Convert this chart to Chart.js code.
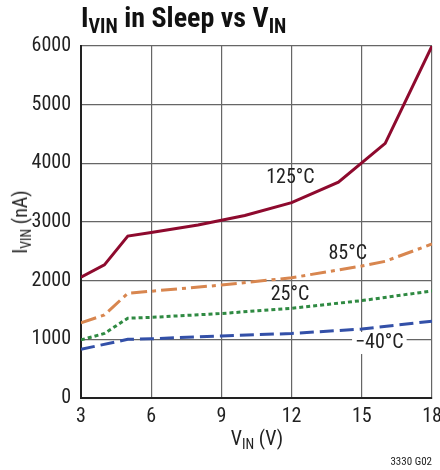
<!DOCTYPE html>
<html>
<head>
<meta charset="utf-8">
<script src="https://cdn.jsdelivr.net/npm/chart.js@4.4.0/dist/chart.umd.min.js"></script>
<style>
  html, body { margin: 0; padding: 0; background: #fff; }
  #wrap { position: relative; width: 440px; height: 470px; font-family: "Roboto Condensed", "Liberation Sans", Arial, sans-serif; color: #222; }
  #title { position: absolute; left: 81px; top: 1px; font-size: 28px; font-weight: bold; color: #111; white-space: nowrap; }
  #title sub { font-size: 20px; vertical-align: -6px; }
  #xtitle { position: absolute; left: 0; width: 514px; top: 426px; text-align: center; font-size: 20px; white-space: nowrap; }
  #ytitle { position: absolute; left: 21px; top: 222px; font-size: 20px; white-space: nowrap; transform: translate(-50%, -50%) rotate(-90deg); }
  sub { font-size: 14px; vertical-align: -4px; }
  #note { position: absolute; right: 8px; top: 455px; font-size: 11px; }
</style>
</head>
<body>
<div id="wrap">
  <canvas id="chart" width="440" height="470"></canvas>
  <div id="title">I<sub>VIN</sub> in Sleep vs V<sub>IN</sub></div>
  <div id="ytitle">I<sub>VIN</sub> (nA)</div>
  <div id="xtitle">V<sub>IN</sub> (V)</div>
  <div id="note">3330 G02</div>
</div>
<script>
// V_IN (V) sample points for each curve
const vin125 = [3, 4, 5, 6, 8, 10, 12, 14, 16, 18];
const cur125 = [2060, 2270, 2760, 2820, 2950, 3110, 3330, 3680, 4340, 6000];

const vin85 = [3, 4, 5, 6, 9, 12, 15, 16, 18];
const cur85 = [1280, 1415, 1785, 1820, 1925, 2050, 2250, 2330, 2625];

const vin25 = [3, 4, 5, 6, 9, 12, 15, 18];
const cur25 = [990, 1100, 1360, 1375, 1440, 1530, 1660, 1825];

const vinM40 = [3, 5, 6, 9, 12, 15, 18];
const curM40 = [830, 1000, 1010, 1057, 1100, 1175, 1310];

const xTicks = [3, 6, 9, 12, 15, 18];
const yTicks = [0, 1000, 2000, 3000, 4000, 5000, 6000];

// curve labels: [text, V_IN, I_VIN, white box]
const curveLabels = [
    ['125°C', 11.95, 3750, false],
    ['85°C', 14.4, 2455, false],
    ['25°C', 11.93, 1755, false],
    ['\u221240°C', 15.75, 937, true]
];

const FONT = '"Roboto Condensed", "Liberation Sans", Arial, sans-serif';

function pts(xs, ys) {
    return xs.map((x, i) => ({ x: x, y: ys[i] }));
}

const labelPlugin = {
    id: 'curveLabels',
    afterDatasetsDraw(chart) {
        const ctx = chart.ctx;
        const sx = chart.scales.x, sy = chart.scales.y;
        ctx.save();
        ctx.font = '20px ' + FONT;
        ctx.textAlign = 'center';
        ctx.textBaseline = 'middle';
        curveLabels.forEach(([txt, vx, vy, box]) => {
            const px = sx.getPixelForValue(vx);
            const py = sy.getPixelForValue(vy);
            if (box) {
                const w = ctx.measureText(txt).width + 6;
                ctx.fillStyle = '#fff';
                ctx.fillRect(px - w / 2, py - 11, w, 22);
            }
            ctx.fillStyle = '#222';
            ctx.fillText(txt, px, py);
        });
        ctx.restore();
    }
};

new Chart(document.getElementById('chart'), {
    type: 'line',
    data: {
        datasets: [
            { data: pts(vin125, cur125), borderColor: '#8e0a2e', borderWidth: 3 },
            { data: pts(vin85, cur85), borderColor: '#d8864f', borderWidth: 3, borderDash: [16, 5, 4, 5] },
            { data: pts(vin25, cur25), borderColor: '#2f8a42', borderWidth: 3, borderDash: [4, 3] },
            { data: pts(vinM40, curM40), borderColor: '#3350a8', borderWidth: 3, borderDash: [14, 6] }
        ]
    },
    options: {
        responsive: false,
        animation: false,
        layout: { padding: { top: 46, right: 8, left: 0, bottom: 0 } },
        elements: { point: { radius: 0 }, line: { tension: 0, borderCapStyle: 'butt' } },
        plugins: { legend: { display: false }, tooltip: { enabled: false } },
        scales: {
            x: {
                type: 'linear', min: 3, max: 18,
                afterBuildTicks: s => { s.ticks = xTicks.map(v => ({ value: v })); },
                afterFit: s => { s.height = 72; s.paddingLeft = 0; s.paddingRight = 0; },
                grid: { color: '#666', lineWidth: 1.2, drawTicks: false },
                border: { color: '#222', width: 2 },
                ticks: { color: '#222', padding: 7, font: { family: FONT, size: 20 }, maxRotation: 0, callback: v => String(v) }
            },
            y: {
                min: 0, max: 6000,
                afterBuildTicks: s => { s.ticks = yTicks.map(v => ({ value: v })); },
                afterFit: s => { s.width = 81; },
                grid: { color: '#666', lineWidth: 1.2, drawTicks: false },
                border: { color: '#222', width: 2 },
                ticks: { color: '#222', padding: 10, font: { family: FONT, size: 20 }, callback: v => String(v) }
            }
        }
    },
    plugins: [labelPlugin]
});
</script>
</body>
</html>
